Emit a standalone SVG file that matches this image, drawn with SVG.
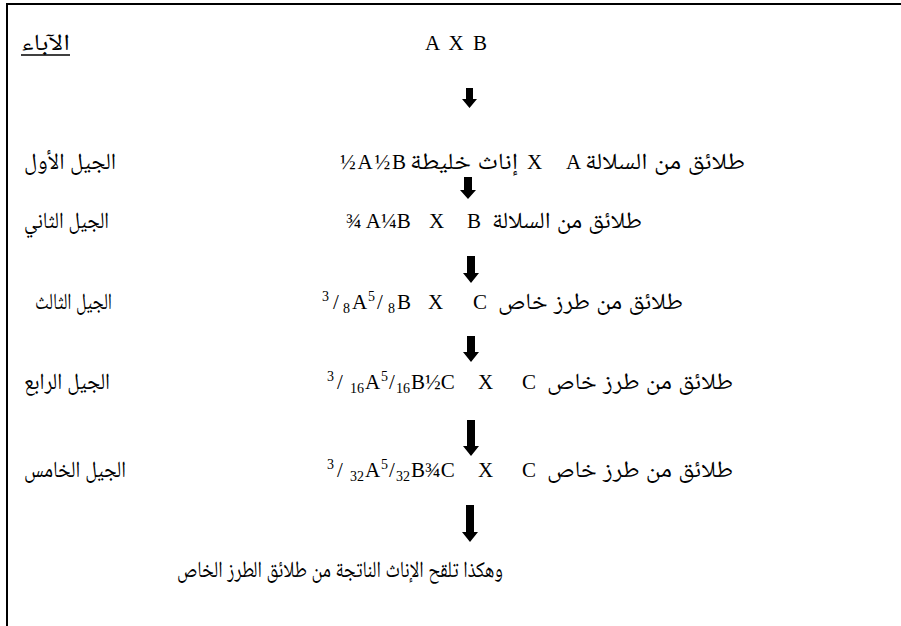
<svg xmlns="http://www.w3.org/2000/svg" width="901" height="626" viewBox="0 0 901 626">
<style>
.t{font-family:"Liberation Serif","Noto Naskh Arabic","Noto Sans Arabic","DejaVu Sans",serif;font-size:21px;fill:#000}
.s{font-size:14px}
.ar{font-size:23px}
.arrow{fill:#000}
.frame{stroke:#000;stroke-width:2;fill:none}
</style>
<rect width="901" height="626" fill="#fff"/>
<path class="frame" d="M7,626 V4 H901"/>
<g id="parents">
<text class="t ar" x="21" y="50" textLength="49" lengthAdjust="spacingAndGlyphs">الآباء</text>
<line x1="21" y1="55" x2="70" y2="55" stroke="#000" stroke-width="1.5"/>
<text class="t" x="425" y="50" textLength="62">A X B</text>
</g>
<g id="gen1">
<text class="t ar" x="24" y="169" textLength="92" lengthAdjust="spacingAndGlyphs">الجيل الأول</text>
<text class="t" x="340" y="169" textLength="66">½A½B</text>
<text class="t ar" x="410" y="169" textLength="108" lengthAdjust="spacingAndGlyphs">إناث خليطة</text>
<text class="t" x="527" y="169">X</text>
<text class="t" x="566" y="169">A</text>
<text class="t ar" x="585" y="169" textLength="160" lengthAdjust="spacingAndGlyphs">طلائق من السلالة</text>
</g>
<g id="gen2">
<text class="t ar" x="24" y="228" textLength="85" lengthAdjust="spacingAndGlyphs">الجيل الثاني</text>
<text class="t" x="346" y="228">¾ A¼B</text>
<text class="t" x="429" y="228">X</text>
<text class="t" x="467" y="228">B</text>
<text class="t ar" x="492" y="228" textLength="150" lengthAdjust="spacingAndGlyphs">طلائق من السلالة</text>
</g>
<g id="gen3">
<text class="t ar" x="35" y="309" textLength="77" lengthAdjust="spacingAndGlyphs">الجيل الثالث</text>
<text class="t" y="309"><tspan class="s" x="322" dy="-8">3</tspan><tspan x="333" dy="8">/</tspan><tspan class="s" x="343" dy="4">8</tspan><tspan x="352" dy="-4">A</tspan><tspan class="s" x="368" dy="-8">5</tspan><tspan x="377" dy="8">/</tspan><tspan class="s" x="388" dy="4">8</tspan><tspan x="397" dy="-4">B</tspan></text>
<text class="t" x="428" y="309">X</text>
<text class="t" x="473" y="309">C</text>
<text class="t ar" x="498" y="309" textLength="185" lengthAdjust="spacingAndGlyphs">طلائق من طرز خاص</text>
</g>
<g id="gen4">
<text class="t ar" x="24" y="389" textLength="86" lengthAdjust="spacingAndGlyphs">الجيل الرابع</text>
<text class="t" y="389"><tspan class="s" x="327" dy="-8">3</tspan><tspan x="337" dy="8">/</tspan><tspan class="s" x="350" dy="4">16</tspan><tspan x="365" dy="-4">A</tspan><tspan class="s" x="381" dy="-8">5</tspan><tspan x="389" dy="8">/</tspan><tspan class="s" x="396" dy="4">16</tspan><tspan x="411" dy="-4">B½C</tspan></text>
<text class="t" x="478" y="389">X</text>
<text class="t" x="522" y="389">C</text>
<text class="t ar" x="547" y="389" textLength="186" lengthAdjust="spacingAndGlyphs">طلائق من طرز خاص</text>
</g>
<g id="gen5">
<text class="t ar" x="24" y="477" textLength="102" lengthAdjust="spacingAndGlyphs">الجيل الخامس</text>
<text class="t" y="477"><tspan class="s" x="327" dy="-8">3</tspan><tspan x="337" dy="8">/</tspan><tspan class="s" x="350" dy="4">32</tspan><tspan x="365" dy="-4">A</tspan><tspan class="s" x="381" dy="-8">5</tspan><tspan x="389" dy="8">/</tspan><tspan class="s" x="396" dy="4">32</tspan><tspan x="411" dy="-4">B¾C</tspan></text>
<text class="t" x="478" y="477">X</text>
<text class="t" x="522" y="477">C</text>
<text class="t ar" x="547" y="477" textLength="186" lengthAdjust="spacingAndGlyphs">طلائق من طرز خاص</text>
</g>
<g id="result">
<text class="t ar" x="177" y="577" textLength="326" lengthAdjust="spacingAndGlyphs">وهكذا تلقح الإناث الناتجة من طلائق الطرز الخاص</text>
</g>
<g id="connectors">
<path class="arrow" d="M466,88 H473 V99 H477 L469.5,108 L462,99 H466 Z"/>
<path class="arrow" d="M464,177 H472 V190 H476 L468,199 L460,190 H464 Z"/>
<path class="arrow" d="M467,256 H475 V273 H479 L471,283 L463,273 H467 Z"/>
<path class="arrow" d="M467,336 H475 V352 H479 L471,362 L463,352 H467 Z"/>
<path class="arrow" d="M467,420 H475 V446 H479 L471,456 L463,446 H467 Z"/>
<path class="arrow" d="M466,505 H474 V532 H478 L470,542 L462,532 H466 Z"/>
</g>
</svg>
